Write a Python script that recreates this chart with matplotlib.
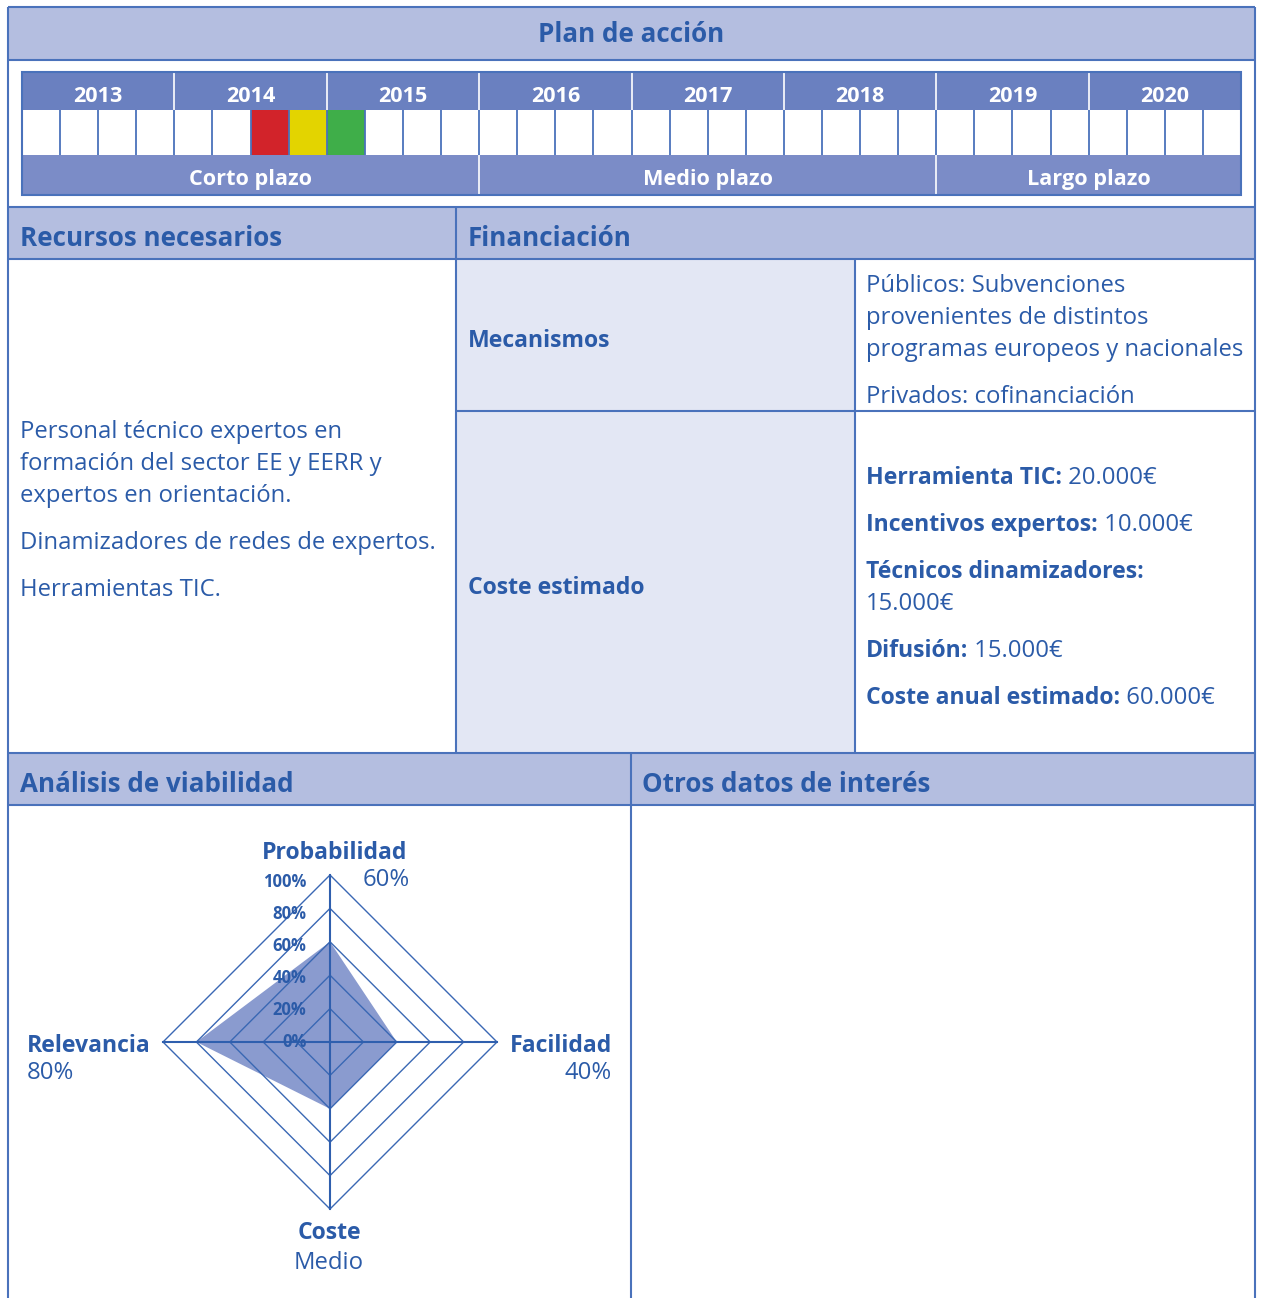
import matplotlib
matplotlib.use("Agg")
import matplotlib.pyplot as plt
from matplotlib.patches import Rectangle, Polygon
import numpy as np

plt.rcParams['font.family'] = ['Open Sans', 'DejaVu Sans']

# ---------------- data ----------------
title = "Plan de acción"
years = ['2013', '2014', '2015', '2016', '2017', '2018', '2019', '2020']
quarters_per_year = 4
highlight_quarters = [6, 7, 8]            # 2014 Q3, 2014 Q4, 2015 Q1
highlight_colors = ['#d2232a', '#e3d400', '#3fae49']
plazos = ['Corto plazo', 'Medio plazo', 'Largo plazo']
plazo_years = [3, 3, 2]

recursos_lines = [
    ["Personal técnico expertos en", "formación del sector EE y EERR y", "expertos en orientación."],
    ["Dinamizadores de redes de expertos."],
    ["Herramientas TIC."],
]
mecanismos_lines = [
    ["Públicos: Subvenciones", "provenientes de distintos", "programas europeos y nacionales"],
    ["Privados: cofinanciación"],
]
coste_items = [
    ("Herramienta TIC:", " 20.000€"),
    ("Incentivos expertos:", " 10.000€"),
    ("Técnicos dinamizadores:", None),
    ("Difusión:", " 15.000€"),
    ("Coste anual estimado:", " 60.000€"),
]
coste_extra_line = "15.000€"

radar_axes = ['Probabilidad', 'Facilidad', 'Coste', 'Relevancia']
radar_values = [60, 40, 40, 80]
radar_value_labels = ['60%', '40%', 'Medio', '80%']
radar_ticks = [0, 20, 40, 60, 80, 100]

# ---------------- style ----------------
W, H = 1261, 1298
TXT = '#2b5ba8'
LINE = '#4a72bb'
HDR = '#b4bee0'
YEAR = '#6a80c0'
PLAZO = '#7b8cc7'
LIGHT = '#e3e7f4'
BODY = 17.2
BODYB = 16.6
HEAD = 18.7
YR = 15.6
DY = 2  # small downward nudge for text centring

fig = plt.figure(figsize=(W / 100, H / 100), dpi=100)
ax = fig.add_axes([0, 0, 1, 1])
ax.set_xlim(0, W)
ax.set_ylim(H, 0)
ax.axis('off')


def rect(x0, y0, x1, y1, fc, ec='none', lw=0, z=1):
    ax.add_patch(Rectangle((x0, y0), x1 - x0, y1 - y0, facecolor=fc, edgecolor=ec, lw=lw, zorder=z))


def hline(y, x0, x1, c=LINE, lw=1.5, z=5):
    ax.plot([x0, x1], [y, y], color=c, lw=lw, zorder=z, solid_capstyle='butt')


def vline(x, y0, y1, c=LINE, lw=1.5, z=5):
    ax.plot([x, x], [y0, y1], color=c, lw=lw, zorder=z, solid_capstyle='butt')


L, R = 8, 1255
# ---- title bar
rect(L, 7, R, 60, HDR)
ax.text((L + R) / 2, 33 + DY, title, ha='center', va='center', color=TXT, fontsize=HEAD, fontweight='bold', zorder=6)
hline(7, L, R)
hline(60, L, R)

# ---- timeline
TX0, TX1 = 22, 1241
ny = len(years)
yw = (TX1 - TX0) / ny
qw = yw / quarters_per_year
rect(TX0, 72, TX1, 110, YEAR)
for i, yr in enumerate(years):
    ax.text(TX0 + (i + 0.5) * yw, 94 + DY, yr, ha='center', va='center', color='white', fontsize=YR, fontweight='bold', zorder=6)
    if i > 0:
        vline(TX0 + i * yw, 72, 110, c='white', lw=1.2)
for k, c in zip(highlight_quarters, highlight_colors):
    rect(TX0 + k * qw, 110, TX0 + (k + 1) * qw, 155, c, z=2)
for k in range(1, ny * quarters_per_year):
    vline(TX0 + k * qw, 110, 155, c=LINE, lw=1.3)
rect(TX0, 155, TX1, 195, PLAZO)
start = 0
for p, n in zip(plazos, plazo_years):
    x0 = TX0 + start * yw
    x1 = TX0 + (start + n) * yw
    ax.text((x0 + x1) / 2, 178 + DY, p, ha='center', va='center', color='white', fontsize=YR, fontweight='bold', zorder=6)
    if start > 0:
        vline(x0, 155, 195, c='white', lw=1.2)
    start += n
ax.add_patch(Rectangle((TX0, 72), TX1 - TX0, 123, fill=False, edgecolor=LINE, lw=1.5, zorder=7))

# ---- section 2
rect(L, 207, R, 259, HDR)
rect(456, 259, 855, 752, LIGHT)
hline(207, L, R)
hline(259, L, R)
vline(456, 207, 753)
vline(855, 259, 752)
hline(411, 456, R)
ax.text(20, 236 + DY, "Recursos necesarios", ha='left', va='center', color=TXT, fontsize=HEAD, fontweight='bold', zorder=6)
ax.text(468, 236 + DY, "Financiación", ha='left', va='center', color=TXT, fontsize=HEAD, fontweight='bold', zorder=6)

lh = 32
y = 430 + DY
for para in recursos_lines:
    for line in para:
        ax.text(20, y, line, ha='left', va='center', color=TXT, fontsize=BODY, zorder=6)
        y += lh
    y += 15

ax.text(468, 339 + DY, "Mecanismos", ha='left', va='center', color=TXT, fontsize=BODYB, fontweight='bold', zorder=6)
ax.text(468, 586 + DY, "Coste estimado", ha='left', va='center', color=TXT, fontsize=BODYB, fontweight='bold', zorder=6)

y = 284 + DY
for para in mecanismos_lines:
    for line in para:
        ax.text(866, y, line, ha='left', va='center', color=TXT, fontsize=BODY, zorder=6)
        y += lh
    y += 15

y = 476 + DY
for bold, reg in coste_items:
    t = ax.text(866, y, bold, ha='left', va='center', color=TXT, fontsize=BODYB, fontweight='bold', zorder=6)
    if reg is not None:
        ax.annotate(reg, xy=(1, 0), xycoords=t, ha='left', va='bottom', color=TXT, fontsize=BODY, zorder=6)
        y += 47
    else:
        y += lh
        ax.text(866, y, coste_extra_line, ha='left', va='center', color=TXT, fontsize=BODY, zorder=6)
        y += 47

# ---- section 3
rect(L, 753, R, 805, HDR)
hline(753, L, R)
hline(805, L, R)
vline(631, 753, H)
ax.text(20, 783 + DY, "Análisis de viabilidad", ha='left', va='center', color=TXT, fontsize=HEAD, fontweight='bold', zorder=6)
ax.text(642, 783 + DY, "Otros datos de interés", ha='left', va='center', color=TXT, fontsize=HEAD, fontweight='bold', zorder=6)

# outer border
vline(L, 7, H)
vline(R, 7, H)

# ---- radar
cx, cy, rad = 330, 1042, 167
rax = fig.add_axes([(cx - rad) / W, (H - cy - rad) / H, 2 * rad / W, 2 * rad / H])
rax.set_xlim(-100, 100)
rax.set_ylim(-100, 100)
rax.axis('off')
angles = np.deg2rad([90, 0, -90, 180])
vx = np.array(radar_values) * np.cos(angles)
vy = np.array(radar_values) * np.sin(angles)
rax.add_patch(Polygon(np.column_stack([vx, vy]), closed=True, facecolor='#8a9bcf', edgecolor='none', zorder=1))
for r in radar_ticks[1:]:
    gx = r * np.cos(angles)
    gy = r * np.sin(angles)
    rax.add_patch(Polygon(np.column_stack([gx, gy]), closed=True, fill=False, edgecolor='#3a68b4', lw=1.0, zorder=2))
for a in angles:
    rax.plot([0, 100 * np.cos(a)], [0, 100 * np.sin(a)], color='#2f5fae', lw=1.5, zorder=3, clip_on=False)
for r in radar_ticks:
    rax.text(-14, r * 0.96, f"{r}%", ha='right', va='center', color=TXT, fontsize=12, fontweight='bold', zorder=6, clip_on=False)

RB = 16.6
RN = 17.2
ax.text(335, 851 + DY, radar_axes[0], ha='center', va='center', color=TXT, fontsize=RB, fontweight='bold', zorder=6)
ax.text(386, 878 + DY, radar_value_labels[0], ha='center', va='center', color=TXT, fontsize=RN, zorder=6)
ax.text(612, 1044 + DY, radar_axes[1], ha='right', va='center', color=TXT, fontsize=RB, fontweight='bold', zorder=6)
ax.text(612, 1071 + DY, radar_value_labels[1], ha='right', va='center', color=TXT, fontsize=RN, zorder=6)
ax.text(329, 1231 + DY, radar_axes[2], ha='center', va='center', color=TXT, fontsize=RB, fontweight='bold', zorder=6)
ax.text(329, 1261 + DY, radar_value_labels[2], ha='center', va='center', color=TXT, fontsize=RN, zorder=6)
ax.text(27, 1044 + DY, radar_axes[3], ha='left', va='center', color=TXT, fontsize=RB, fontweight='bold', zorder=6)
ax.text(27, 1071 + DY, radar_value_labels[3], ha='left', va='center', color=TXT, fontsize=RN, zorder=6)

fig.savefig('out.png', dpi=100)
